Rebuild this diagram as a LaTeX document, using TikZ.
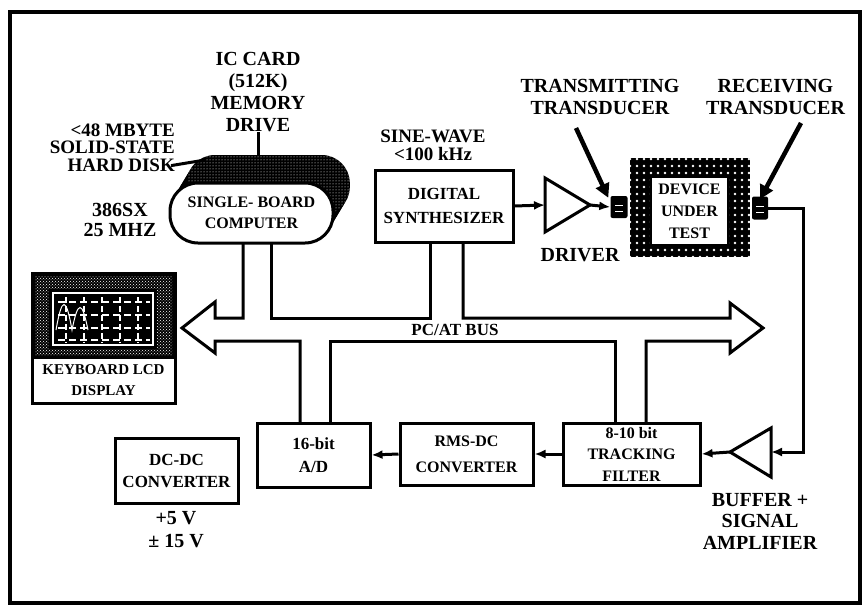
\documentclass[tikz,border=0pt]{standalone}
\usepackage{fontspec}
\setmainfont{Liberation Serif}
\usetikzlibrary{arrows.meta,patterns}

\pgfdeclarepatternformonly{sparse dots}{\pgfqpoint{-1.5pt}{-1.5pt}}{\pgfqpoint{1.5pt}{1.5pt}}{\pgfqpoint{7pt}{7pt}}{\pgfpathcircle{\pgfqpoint{0pt}{0pt}}{1.3pt}\pgfusepath{fill}}

\newcommand\lblsize{\fontsize{20}{22}\selectfont\bfseries}
\newcommand\boxsize{\fontsize{16}{21.5}\selectfont\bfseries}

\begin{document}
\begin{tikzpicture}[x=1pt, y=-1pt,
    blk/.style={draw, line width=3pt, fill=white, inner sep=0pt, align=center, font=\boxsize},
    lbl/.style={align=center, font=\lblsize, inner sep=0pt},
    sig/.style={line width=3pt, -{Latex[length=11pt,width=9pt]}},
    pointer/.style={line width=4.5pt, -{Triangle[length=14pt,width=14pt]}},
    bus/.style={line width=3pt, line join=miter}]

\useasboundingbox (0,0) rectangle (866,607);
\draw[line width=3.5pt] (10,12) rectangle (860,603);

% memory cards stacked behind the computer
\foreach \s in {8,...,1}
    \fill[black, shift={(\s*2.1,-\s*3.5)}, rounded corners=28pt] (170,183) rectangle (333,243);
\fill[pattern=dots, pattern color=white, shift={(16.8,-28)}, rounded corners=28pt] (170,183) rectangle (333,243);
\node[blk, rounded corners=28pt, minimum width=163pt, minimum height=60pt] (sbc) at (251.5,213) {SINGLE- BOARD\\COMPUTER};

% labels round the computer
\node[lbl] (iccard) at (258,92.5) {IC CARD\\(512K)\\MEMORY\\DRIVE};
\node[lbl, align=right, anchor=east, font=\fontsize{19}{17.5}\selectfont\bfseries] (hdd) at (175,147.5) {<48 MBYTE\\SOLID-STATE\\HARD DISK};
\node[lbl, font=\fontsize{20}{20}\selectfont\bfseries] (cpu) at (120,220) {386SX\\25 MHZ};
\coordinate (stacktop) at (258,156);
\coordinate (stackleft) at (205,160);
\draw[line width=3pt] (iccard.south) -- (stacktop);
\draw[line width=3pt] ([xshift=-4pt,yshift=6pt]hdd.south east) -- (stackleft);

% keyboard and display
\node[draw, line width=3pt, minimum width=143pt, minimum height=130pt, inner sep=0pt] (kbd) at (103.5,338) {};
\fill[black] (32,273) rectangle (175,357);
\fill[pattern=crosshatch dots, pattern color=white] (35,276) rectangle (172,355);
\fill[black] (49,289) rectangle (157,349);
\draw[white, line width=1.2pt] (53,293) rectangle (153,345);
\foreach \y in {302,315,328,340}
    \draw[white, line width=1.8pt, dash pattern=on 7pt off 4pt] (58,\y) -- (150,\y);
\foreach \x in {66,84,102,120,138}
    \draw[white, line width=1.6pt, dash pattern=on 6pt off 3pt] (\x,297) -- (\x,343);
\draw[white, line width=1pt] (56,330) .. controls (62,296) and (66,296) .. (72,330) .. controls (78,300) and (82,300) .. (88,330);
\draw[line width=3pt] (32,357) -- (175,357);
\node[font=\fontsize{15}{21}\selectfont\bfseries, align=center] (kbdtext) at (103.5,380) {KEYBOARD LCD\\DISPLAY};

% synthesizer and driver
\node[lbl, font=\fontsize{19}{18}\selectfont\bfseries] (sine) at (433,145) {SINE-WAVE\\<100 kHz};
\node[blk, font=\fontsize{17}{24}\selectfont\bfseries, minimum width=138pt, minimum height=72pt] (synth) at (444,206) {DIGITAL\\SYNTHESIZER};
\draw[line width=3pt, fill=white] (545,178) -- (590,205) -- (545,232) -- cycle;
\coordinate (drvin) at (545,205);
\coordinate (drvout) at (590,205);
\node[lbl] (driver) at (580,255) {DRIVER};

% device under test with transducers
\fill[black] (630,158) rectangle (750,257);
\fill[pattern=sparse dots, pattern color=white] (630,158) rectangle (750,257);
\node[blk, line width=1.5pt, minimum width=77pt, minimum height=68pt, font=\fontsize{16}{22}\selectfont\bfseries] (dut) at (689.5,211) {DEVICE\\UNDER\\TEST};
\node[fill=black, minimum width=17pt, minimum height=22pt, inner sep=0pt, rounded corners=2pt] (txd) at (619,207) {};
\node[fill=black, minimum width=16pt, minimum height=23pt, inner sep=0pt, rounded corners=2pt] (rxd) at (760,208) {};
\foreach \d in {-4,2}
    \draw[white, line width=1pt] ([xshift=-4pt,yshift=\d pt]txd.center) -- ([xshift=4pt,yshift=\d pt]txd.center)
        ([xshift=-4pt,yshift=\d pt]rxd.center) -- ([xshift=4pt,yshift=\d pt]rxd.center);
\node[lbl] (txlbl) at (600,97) {TRANSMITTING\\TRANSDUCER};
\node[lbl] (rxlbl) at (775.5,97) {RECEIVING\\TRANSDUCER};
\coordinate (txtail) at (576,128);
\coordinate (rxtail) at (801,123);
\draw[pointer] (txtail) -- ([xshift=-2pt,yshift=-2pt]txd.north west);
\draw[pointer] (rxtail) -- ([yshift=-3pt]rxd.north);

% receive chain
\draw[line width=3pt, fill=white] (771,428) -- (730,452) -- (771,477) -- cycle;
\coordinate (bufin) at (771,452);
\coordinate (bufout) at (730,452);
\node[lbl, font=\fontsize{20}{21.5}\selectfont\bfseries] (buflbl) at (760,521) {BUFFER +\\SIGNAL\\AMPLIFIER};
\node[blk, minimum width=137pt, minimum height=62pt] (filter) at (631.5,454) {8-10 bit\\TRACKING\\FILTER};
\node[blk, minimum width=133pt, minimum height=62pt, font=\fontsize{16}{26}\selectfont\bfseries] (rms) at (466.5,454) {RMS-DC\\CONVERTER};
\node[blk, minimum width=113pt, minimum height=64pt, font=\fontsize{17}{23}\selectfont\bfseries] (ad) at (313.5,455) {16-bit\\A/D};
\node[blk, minimum width=123pt, minimum height=65pt, font=\fontsize{17}{22}\selectfont\bfseries] (dcdc) at (176.5,470.5) {DC-DC\\CONVERTER};
\node[lbl, font=\fontsize{20}{23}\selectfont\bfseries] (power) at (176,530) {+5 V\\± 15 V};

\coordinate (rxturn) at (803,208);
\draw[sig] (rxd.east) -- (rxturn) |- (bufin);
\draw[sig] (bufout) -- (filter.east);
\draw[sig] (filter.west) -- (rms.east);
\draw[sig] (rms.west) -- (ad.east);
\draw[sig] (synth.east) -- (drvin);
\draw[sig] (drvout) -- (txd.west);

% PC/AT bus
\draw[bus] (243,243) -- (243,318) -- (215,318) -- (215,302) -- (182,328) -- (215,353) -- (215,341) -- (300,341) -- (300,423);
\draw[bus] (271,243) -- (271,318) -- (430,318) -- (430,242);
\draw[bus] (463,242) -- (463,318) -- (730,318) -- (730,303) -- (763,328) -- (730,353) -- (730,341) -- (646,341) -- (646,423);
\draw[bus] (330,423) -- (330,341) -- (615,341) -- (615,423);
\node[font=\fontsize{17}{20}\selectfont\bfseries, inner sep=0pt] (buslbl) at (455,330) {PC/AT BUS};

\end{tikzpicture}
\end{document}
